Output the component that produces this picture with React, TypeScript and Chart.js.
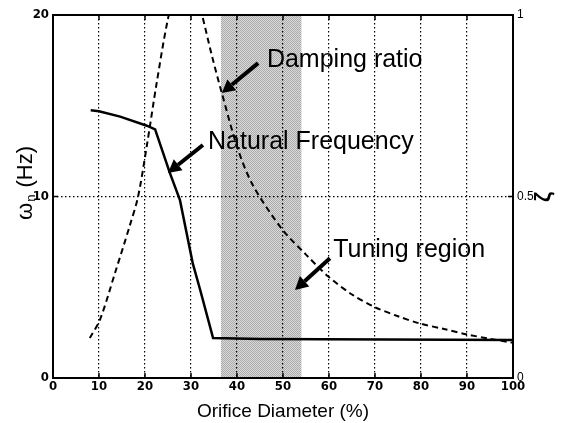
import React, { useEffect, useRef } from 'react';
import { Chart, registerables } from 'chart.js';
Chart.register(...registerables);

// ---- data ----
const xTickValues = [0, 10, 20, 30, 40, 50, 60, 70, 80, 90, 100];
const leftTickValues = [0, 10, 20];
const rightTickValues = [0, 0.5, 1];

// Natural frequency (Hz), left axis
const natX = [8.2, 10, 14.6, 20.4, 22.2, 25.4, 27.6, 30.4, 32, 34.8, 45, 100];
const natY = [14.75, 14.7, 14.4, 13.9, 13.7, 11.3, 9.8, 6.3, 4.85, 2.2, 2.15, 2.1];

// Damping ratio, right axis
const dampX = [8, 10.2, 13.5, 16.7, 18.5, 20.4, 22.5, 25, 27, 29, 31, 32.4, 34.5, 36.7, 40.2, 43.5, 49.8, 55, 59.8, 65, 70, 75, 79.8, 85, 90, 95, 100];
const dampY = [0.11, 0.16, 0.29, 0.42, 0.5, 0.64, 0.81, 0.99, 1.08, 1.1, 1.06, 1.0, 0.89, 0.785, 0.63, 0.53, 0.41, 0.34, 0.28, 0.23, 0.195, 0.17, 0.15, 0.135, 0.12, 0.108, 0.097];

// Tuning region (x range)
const tuningRegion = [36.5, 54];

const xTitle = 'Orifice Diameter (%)';
const yTitleMain = 'ω';
const yTitleSub = 'n';
const yTitleRest = '(Hz)';
const y1Title = 'ζ';
const annDamping = 'Damping ratio';
const annNatural = 'Natural Frequency';
const annTuning = 'Tuning region';

const SANS = '"Liberation Sans", Arial, sans-serif';
const NARROW = '"Liberation Sans Narrow", "DejaVu Sans Condensed", "Liberation Sans", Arial, sans-serif';

function arrow(ctx: CanvasRenderingContext2D, x1: number, y1: number, x2: number, y2: number) {
  const ang = Math.atan2(y2 - y1, x2 - x1);
  const headLen = 13;
  const headW = 7;
  const bx = x2 - Math.cos(ang) * headLen;
  const by = y2 - Math.sin(ang) * headLen;
  ctx.save();
  ctx.strokeStyle = '#000';
  ctx.fillStyle = '#000';
  ctx.lineWidth = 4;
  ctx.beginPath();
  ctx.moveTo(x1, y1);
  ctx.lineTo(bx, by);
  ctx.stroke();
  ctx.beginPath();
  ctx.moveTo(x2, y2);
  ctx.lineTo(bx + Math.sin(ang) * headW, by - Math.cos(ang) * headW);
  ctx.lineTo(bx - Math.sin(ang) * headW, by + Math.cos(ang) * headW);
  ctx.closePath();
  ctx.fill();
  ctx.restore();
}

const overlay = {
  id: 'overlay',
  beforeDraw(chart: any) {
    const { ctx, chartArea: a, scales } = chart;
    const x = scales.x;
    const x0 = x.getPixelForValue(tuningRegion[0]);
    const x1 = x.getPixelForValue(tuningRegion[1]);
    const pc = document.createElement('canvas');
    pc.width = 2; pc.height = 2;
    const p = pc.getContext('2d')!;
    p.fillStyle = '#dadada'; p.fillRect(0, 0, 2, 2);
    p.fillStyle = '#ababab'; p.fillRect(0, 0, 1, 1); p.fillRect(1, 1, 1, 1);
    ctx.save();
    ctx.fillStyle = ctx.createPattern(pc, 'repeat');
    ctx.fillRect(x0, a.top, x1 - x0, a.bottom - a.top);
    ctx.restore();
  },
  afterDraw(chart: any) {
    const { ctx, chartArea: a, scales } = chart;
    const x = scales.x, y = scales.y;
    ctx.save();
    // frame
    ctx.strokeStyle = '#000';
    ctx.lineWidth = 2;
    ctx.strokeRect(a.left, a.top, a.right - a.left, a.bottom - a.top);
    // inward ticks
    ctx.lineWidth = 1.5;
    ctx.beginPath();
    for (const v of xTickValues) {
      const px = x.getPixelForValue(v);
      ctx.moveTo(px, a.bottom); ctx.lineTo(px, a.bottom - 5);
      ctx.moveTo(px, a.top); ctx.lineTo(px, a.top + 5);
    }
    for (const v of leftTickValues) {
      const py = y.getPixelForValue(v);
      ctx.moveTo(a.left, py); ctx.lineTo(a.left + 5, py);
      ctx.moveTo(a.right, py); ctx.lineTo(a.right - 5, py);
    }
    ctx.stroke();

    // annotations
    ctx.fillStyle = '#000';
    ctx.font = `25px ${SANS}`;
    ctx.textBaseline = 'middle';
    ctx.textAlign = 'left';
    const P = (xv: number, yv: number) => [x.getPixelForValue(xv), y.getPixelForValue(yv)];
    let [tx, ty] = P(46.5, 17.5);
    ctx.fillText(annDamping, tx, ty);
    [tx, ty] = P(33.7, 13.0);
    ctx.fillText(annNatural, tx, ty);
    [tx, ty] = P(60.9, 7.05);
    ctx.fillText(annTuning, tx, ty);

    let [ax1, ay1] = P(44.6, 17.35); let [ax2, ay2] = P(36.7, 15.7);
    arrow(ctx, ax1, ay1, ax2, ay2);
    [ax1, ay1] = P(32.6, 12.84); [ax2, ay2] = P(25.0, 11.3);
    arrow(ctx, ax1, ay1, ax2, ay2);
    [ax1, ay1] = P(60.2, 6.6); [ax2, ay2] = P(52.6, 4.85);
    arrow(ctx, ax1, ay1, ax2, ay2);

    // x title
    ctx.textAlign = 'center';
    ctx.font = `19px ${SANS}`;
    ctx.fillText(xTitle, (a.left + a.right) / 2, 412);

    // left y title (rotated)
    ctx.save();
    ctx.translate(26, 183);
    ctx.rotate(-Math.PI / 2);
    ctx.textAlign = 'left';
    const fMain = `22px ${SANS}`;
    const fSub = `13px ${SANS}`;
    ctx.font = fMain;
    const w1 = ctx.measureText(yTitleMain).width;
    const w3 = ctx.measureText(yTitleRest).width;
    ctx.font = fSub;
    const w2 = ctx.measureText(yTitleSub).width;
    const gap = 7;
    const total = w1 + 1 + w2 + gap + w3;
    let cx = -total / 2;
    ctx.font = fMain;
    ctx.fillText(yTitleMain, cx, 0);
    cx += w1 + 1;
    ctx.font = fSub;
    ctx.fillText(yTitleSub, cx, 5);
    cx += w2 + gap;
    ctx.font = fMain;
    ctx.fillText(yTitleRest, cx, 0);
    ctx.restore();

    // right title
    ctx.save();
    ctx.translate(544, 197);
    ctx.rotate(-Math.PI / 2);
    ctx.textAlign = 'center';
    ctx.font = `bold 22px ${SANS}`;
    ctx.fillText(y1Title, 0, 0);
    ctx.restore();

    ctx.restore();
  },
};

export default function App() {
  const ref = useRef<HTMLCanvasElement>(null);
  useEffect(() => {
    document.body.style.margin = '0';
    const natData = natX.map((v, i) => ({ x: v, y: natY[i] }));
    const dampData = dampX.map((v, i) => ({ x: v, y: dampY[i] }));
    const gridDash = [1.5, 2.5];
    const chart = new Chart(ref.current!, {
      type: 'line',
      data: {
        datasets: [
          {
            label: 'Natural Frequency',
            data: natData,
            yAxisID: 'y',
            borderColor: '#000',
            borderWidth: 2.5,
            pointRadius: 0,
            tension: 0,
            fill: false,
          },
          {
            label: 'Damping ratio',
            data: dampData,
            yAxisID: 'y1',
            borderColor: '#000',
            borderWidth: 2,
            borderDash: [6, 4],
            pointRadius: 0,
            tension: 0.3,
            fill: false,
          },
        ],
      },
      options: {
        responsive: false,
        animation: false,
        devicePixelRatio: 1,
        layout: { padding: { top: 15, left: 0, right: 0, bottom: 0 } },
        plugins: { legend: { display: false }, tooltip: { enabled: false } },
        scales: {
          x: {
            type: 'linear',
            min: 0,
            max: 100,
            afterBuildTicks: (s: any) => { s.ticks = xTickValues.map((v) => ({ value: v })); },
            afterFit: (s: any) => { s.height = 45; },
            ticks: {
              color: '#000',
              font: { family: NARROW, size: 13, weight: 'bold' },
              padding: 1,
              maxRotation: 0,
            },
            grid: { color: '#000', lineWidth: 1.2, drawTicks: false, borderDash: gridDash } as any,
            border: { display: false, dash: gridDash },
          },
          y: {
            type: 'linear',
            position: 'left',
            min: 0,
            max: 20,
            afterBuildTicks: (s: any) => { s.ticks = leftTickValues.map((v) => ({ value: v })); },
            afterFit: (s: any) => { s.width = 53; },
            ticks: {
              color: '#000',
              font: { family: NARROW, size: 13, weight: 'bold' },
              padding: 4,
            },
            grid: { color: '#000', lineWidth: 1.2, drawTicks: false, borderDash: gridDash } as any,
            border: { display: false, dash: gridDash },
          },
          y1: {
            type: 'linear',
            position: 'right',
            min: 0,
            max: 1,
            afterBuildTicks: (s: any) => { s.ticks = rightTickValues.map((v) => ({ value: v })); },
            afterFit: (s: any) => { s.width = 52; },
            ticks: {
              color: '#000',
              font: { family: SANS, size: 12 },
              padding: 4,
              callback: (v: any) => String(v),
            },
            grid: { display: false, drawTicks: false },
            border: { display: false },
          },
        },
      },
      plugins: [overlay],
    } as any);
    return () => chart.destroy();
  }, []);
  return <canvas ref={ref} width={565} height={423} style={{ display: 'block' }} />;
}
